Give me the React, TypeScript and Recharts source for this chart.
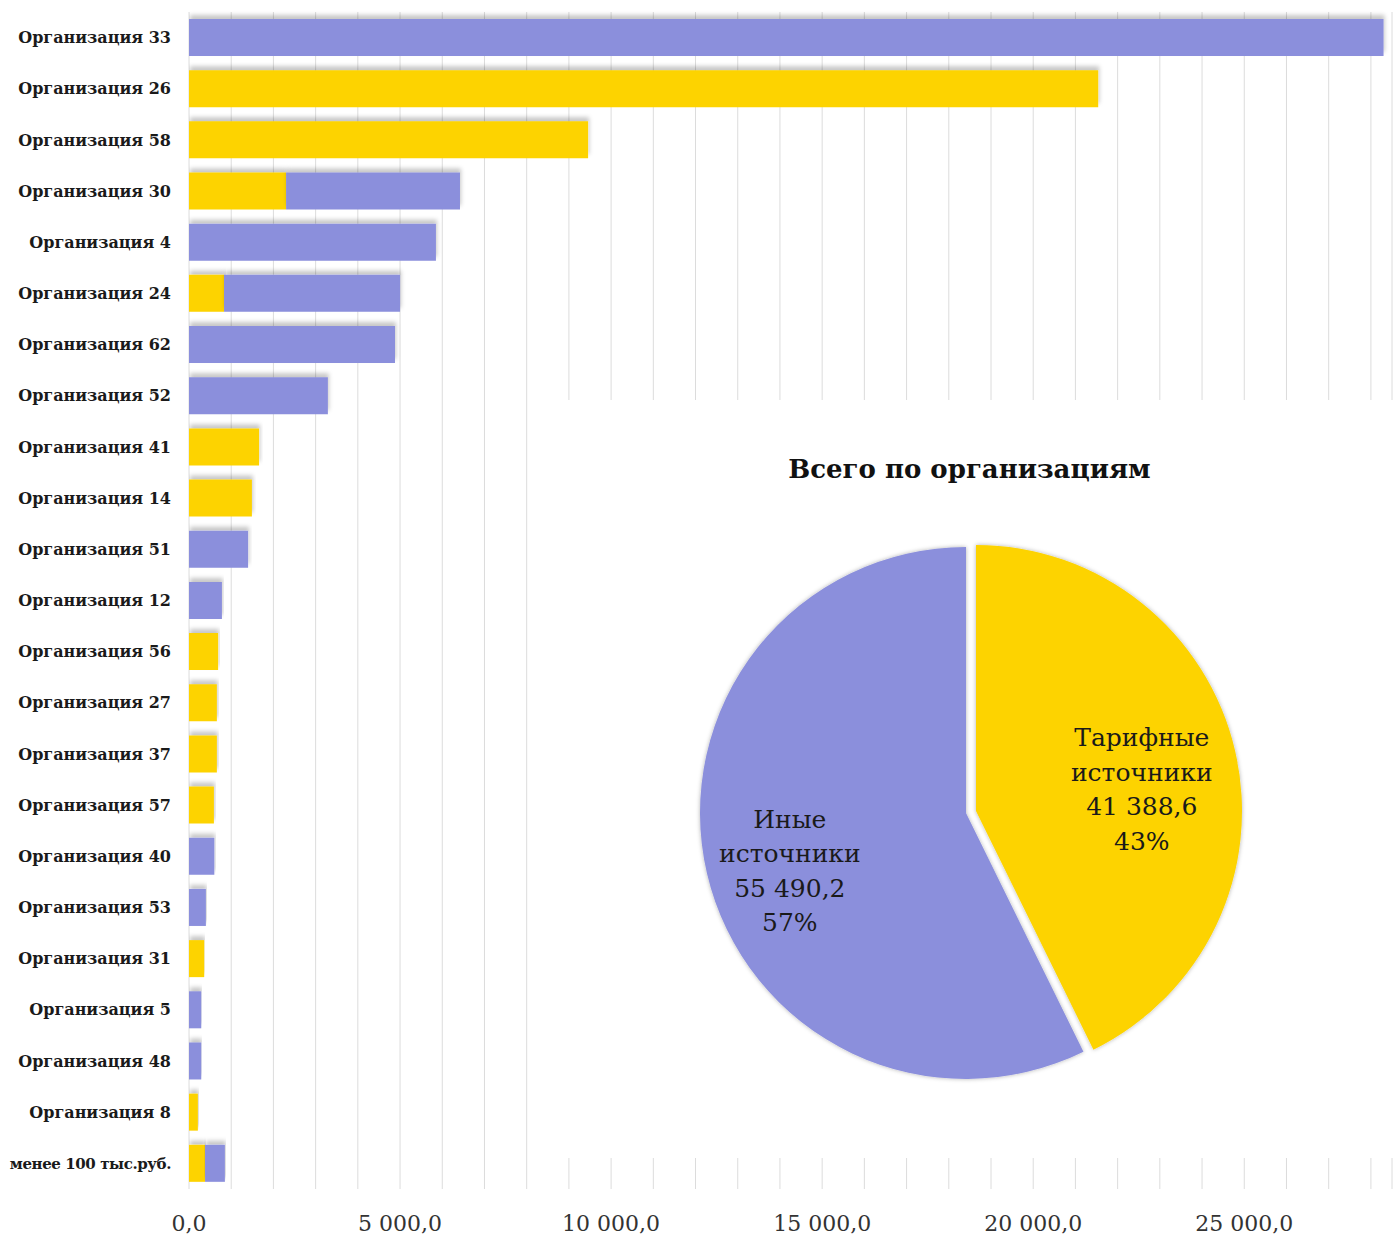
import React from "react"
import {
  BarChart,
  Bar,
  XAxis,
  YAxis,
  CartesianGrid,
  PieChart,
  Pie,
  Cell,
} from "recharts"

// Объём финансирования по организациям, тыс. руб.
const ORGS = [
  "Организация 33",
  "Организация 26",
  "Организация 58",
  "Организация 30",
  "Организация 4",
  "Организация 24",
  "Организация 62",
  "Организация 52",
  "Организация 41",
  "Организация 14",
  "Организация 51",
  "Организация 12",
  "Организация 56",
  "Организация 27",
  "Организация 37",
  "Организация 57",
  "Организация 40",
  "Организация 53",
  "Организация 31",
  "Организация 5",
  "Организация 48",
  "Организация 8",
  "менее 100 тыс.руб.",
]

// тарифные источники
const TARIFF = [0, 21540, 9455, 2300, 0, 830, 0, 0, 1660, 1490, 0, 0, 690, 660, 660, 590, 0, 0, 360, 0, 0, 210, 380]
// иные источники
const OTHER = [28300, 0, 0, 4120, 5850, 4170, 4880, 3290, 0, 0, 1400, 780, 0, 0, 0, 0, 600, 400, 0, 290, 290, 0, 470]

const X_TICKS = [
  0, 1000, 2000, 3000, 4000, 5000, 6000, 7000, 8000, 9000, 10000, 11000, 12000, 13000, 14000,
  15000, 16000, 17000, 18000, 19000, 20000, 21000, 22000, 23000, 24000, 25000, 26000, 27000, 28000,
]

const PIE_NAMES = ["Тарифные источники", "Иные источники"]
const PIE_VALUES = [41388.6, 55490.2]

const YELLOW = "#FDD300"
const PURPLE = "#8B8FDC"
const SERIF = "'DejaVu Serif', 'Liberation Serif', serif"

const barData = ORGS.map((name, i) => ({ name, tariff: TARIFF[i], other: OTHER[i] }))
const pieData = PIE_NAMES.map((name, i) => ({ name, value: PIE_VALUES[i] }))
const pieColors = [YELLOW, PURPLE]

function fmt(v: number) {
  const [int, dec] = v.toFixed(1).split(".")
  return int.replace(/\B(?=(\d{3})+(?!\d))/g, " ") + "," + dec
}

// подписи организаций; длинная подпись чуть уже, чтобы влезла слева
function OrgTick(props: any) {
  const { x, y, payload } = props
  const label = String(payload.value)
  return (
    <text
      x={x}
      y={y}
      dy="0.35em"
      textAnchor="end"
      fill="#1a1a1a"
      fontFamily={SERIF}
      fontWeight="bold"
      fontSize={label.length > 15 ? 15 : 16}
      letterSpacing={label.length > 15 ? -0.4 : 0}
    >
      {label}
    </text>
  )
}

// подпись сектора: название в две строки, сумма и доля
function sliceLabel(visible: number) {
  return (props: any) => {
    const { cx, cy, midAngle, outerRadius, percent, index, name, value } = props
    if (index !== visible) return null
    const RAD = Math.PI / 180
    const r = outerRadius * (index === 0 ? 0.64 : 0.68)
    const x = cx + r * Math.cos(-midAngle * RAD)
    const y = cy + r * Math.sin(-midAngle * RAD) + 17
    const lines = [...String(name).split(" "), fmt(value), `${Math.round(percent * 100)}%`]
    const lh = 34.5
    return (
      <text x={x} y={y} textAnchor="middle" fill="#1a1a1a" fontFamily={SERIF} fontSize={25}>
        {lines.map((l, k) => (
          <tspan key={k} x={x} y={y + (k - (lines.length - 1) / 2) * lh} dominantBaseline="central">
            {l}
          </tspan>
        ))}
      </text>
    )
  }
}

export default function App() {
  return (
    <div style={{ position: "absolute", left: 0, top: 0, width: 1397, height: 1238, background: "#fff" }}>
      <style>{`
        .recharts-bar-rectangle { filter: url(#barShadow); }
        .pie-slice .recharts-pie-sector { filter: url(#pieShadow); }
      `}</style>
      <svg width={0} height={0} style={{ position: "absolute" }}>
        <defs>
          <filter id="barShadow" x="-5%" y="-40%" width="110%" height="160%">
            <feDropShadow dx={1} dy={-4} stdDeviation={2.2} floodColor="#000" floodOpacity={0.22} />
          </filter>
          <filter id="pieShadow" x="-10%" y="-10%" width="120%" height="120%">
            <feDropShadow dx={0} dy={0} stdDeviation={2} floodColor="#000" floodOpacity={0.3} />
          </filter>
        </defs>
      </svg>

      <BarChart
        width={1397}
        height={1238}
        data={barData}
        layout="vertical"
        margin={{ top: 12, right: 5, bottom: 0, left: 0 }}
        barSize={37}
      >
        <CartesianGrid horizontal={false} stroke="#dcdcdc" />
        <XAxis
          type="number"
          domain={[0, 28500]}
          ticks={X_TICKS}
          interval={0}
          allowDataOverflow
          axisLine={false}
          tickLine={false}
          tickMargin={20}
          height={49}
          tickFormatter={(v: number) => (v % 5000 === 0 ? fmt(v) : "")}
          tick={{ fill: "#333", fontSize: 22, fontFamily: SERIF }}
        />
        <YAxis
          type="category"
          dataKey="name"
          width={189}
          axisLine={false}
          tickLine={false}
          tickSize={0}
          tickMargin={18}
          interval={0}
          tick={<OrgTick />}
        />
        <Bar dataKey="tariff" stackId="a" fill={YELLOW} isAnimationActive={false} />
        <Bar dataKey="other" stackId="a" fill={PURPLE} isAnimationActive={false} />
      </BarChart>

      {/* итоговая диаграмма поверх сетки */}
      <div style={{ position: "absolute", left: 530, top: 400, width: 867, height: 758, background: "#fff" }}>
        <div
          style={{
            position: "absolute",
            top: 54,
            width: "100%",
            textAlign: "center",
            paddingLeft: 12,
            boxSizing: "border-box",
            fontFamily: SERIF,
            fontWeight: "bold",
            fontSize: 26,
            color: "#111",
          }}
        >
          Всего по организациям
        </div>
        <PieChart width={867} height={758}>
          <Pie
            className="pie-slice"
            data={pieData}
            dataKey="value"
            nameKey="name"
            cx={431}
            cy={408}
            outerRadius={266}
            startAngle={90}
            endAngle={-270}
            stroke="none"
            label={sliceLabel(1)}
            labelLine={false}
            isAnimationActive={false}
          >
            {pieData.map((d, i) => (
              <Cell key={d.name} fill={i === 1 ? pieColors[i] : "none"} />
            ))}
          </Pie>
          <Pie
            className="pie-slice"
            data={pieData}
            dataKey="value"
            nameKey="name"
            cx={441}
            cy={406}
            outerRadius={266}
            startAngle={90}
            endAngle={-270}
            stroke="none"
            label={sliceLabel(0)}
            labelLine={false}
            isAnimationActive={false}
          >
            {pieData.map((d, i) => (
              <Cell key={d.name} fill={i === 0 ? pieColors[i] : "none"} />
            ))}
          </Pie>
        </PieChart>
      </div>
    </div>
  )
}
